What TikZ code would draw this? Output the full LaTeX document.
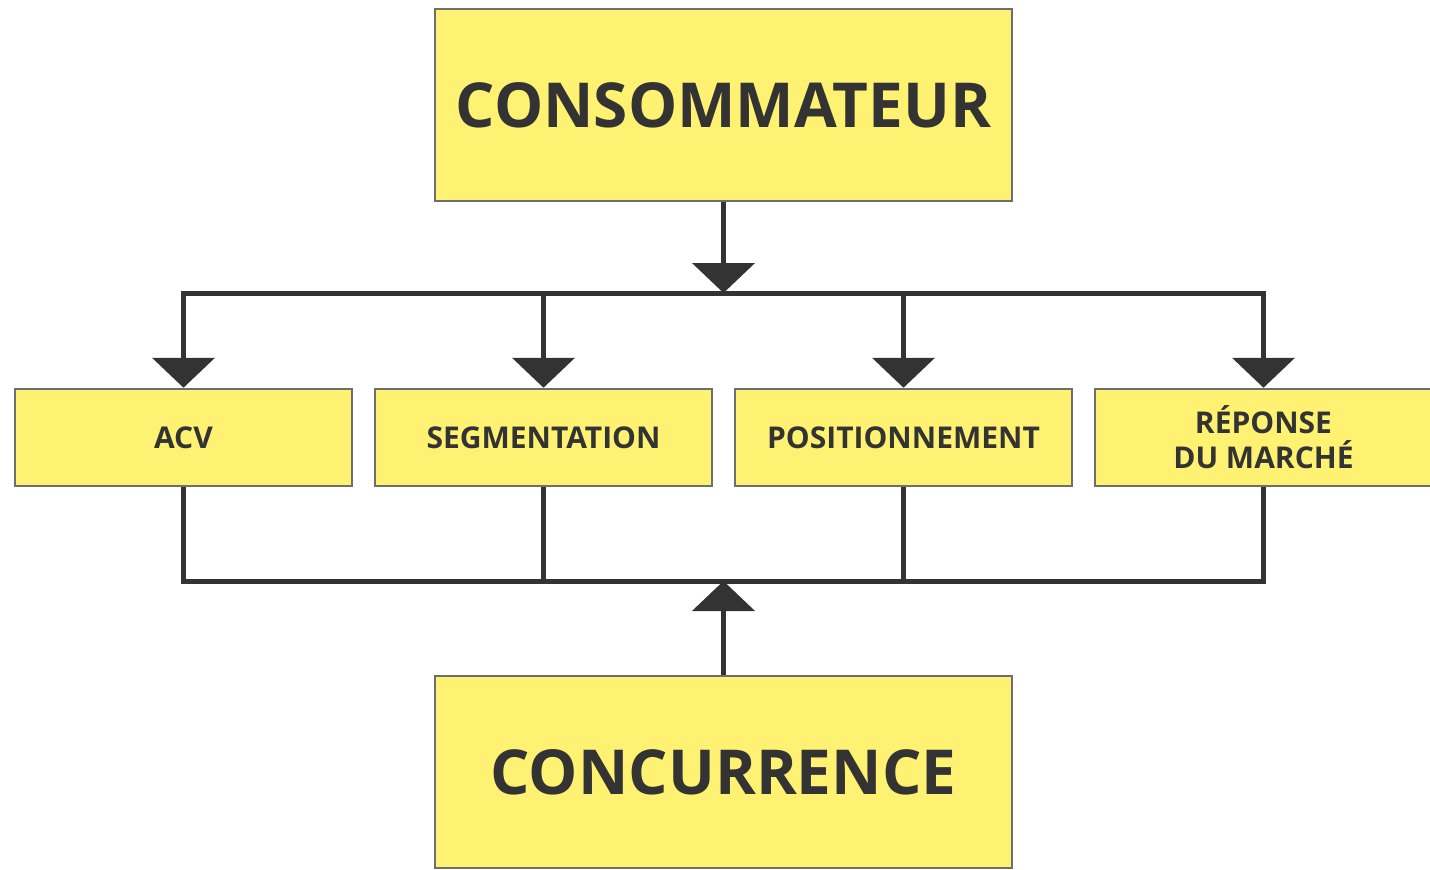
\documentclass[tikz,border=0pt]{standalone}
\usepackage{fontspec}
\setmainfont{Open Sans}
\usetikzlibrary{arrows.meta,positioning}
\definecolor{boxfill}{HTML}{FFF272}
\definecolor{boxline}{HTML}{6E6E6E}
\definecolor{ink}{HTML}{333333}

\begin{document}
\begin{tikzpicture}[x=1pt,y=-1pt,node distance=360pt,on grid,
    bigbox/.style={draw=boxline,line width=2.5pt,fill=boxfill,text=ink,
      minimum width=577pt,minimum height=192pt,inner sep=0pt,
      font=\fontsize{62}{66}\selectfont\bfseries},
    smallbox/.style={draw=boxline,line width=2.5pt,fill=boxfill,text=ink,
      minimum width=337pt,minimum height=97pt,inner sep=0pt,align=center,
      font=\fontsize{30}{35}\selectfont\bfseries},
    link/.style={draw=ink,line width=5pt},
    arr/.style={link,-{Triangle[length=30pt 0,width=62pt 0]}}]
   \clip (0,0) rectangle (1430,870);
   \fill[white] (0,0) rectangle (1430,870);
   \node[bigbox] (cons) at (723.5,105) {\raisebox{-3pt}{CONSOMMATEUR}};
   \node[smallbox] (acv) at (183.5,437.5) {ACV};
   \node[smallbox] (seg) [right=of acv] {SEGMENTATION};
   \node[smallbox] (pos) [right=of seg] {POSITIONNEMENT};
   \node[smallbox] (rep) [right=of pos] {RÉPONSE\\DU MARCHÉ};
   \node[bigbox] (conc) at (723.5,772) {CONCURRENCE};
   \coordinate (topbar) at (723.5,293);
   \coordinate (botbar) at (723.5,581);
   % haut
   \draw[arr] (cons.south) -- (topbar);
   \draw[link,line cap=rect] (acv |- topbar) -- (rep |- topbar);
   \foreach \n in {acv,seg,pos,rep}
     \draw[arr] (\n |- topbar) -- (\n.north);
   % bas
   \draw[link,line cap=rect] (acv |- botbar) -- (rep |- botbar);
   \foreach \n in {acv,seg,pos,rep}
     \draw[link] (\n.south) -- (\n |- botbar);
   \draw[arr] (conc.north) -- (botbar);
\end{tikzpicture}
\end{document}
